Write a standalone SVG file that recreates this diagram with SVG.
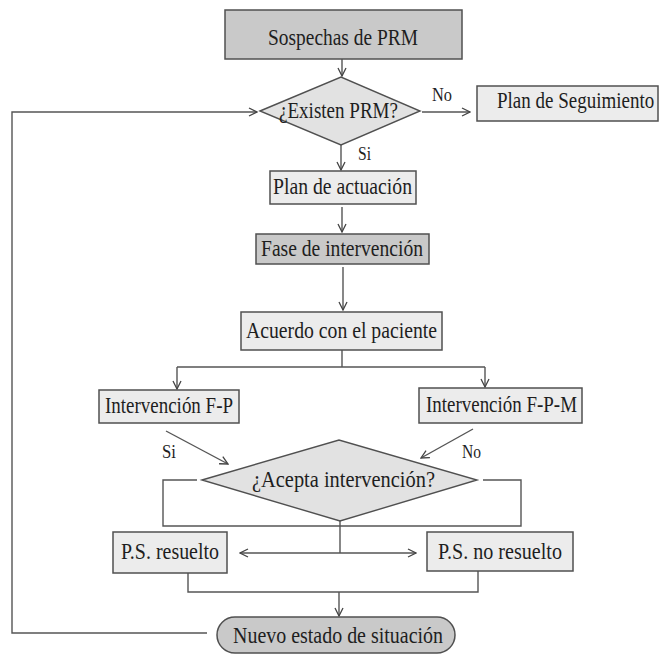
<svg xmlns="http://www.w3.org/2000/svg" width="662" height="654" viewBox="0 0 662 654">
  <style>
    .box { stroke: #505050; stroke-width: 1.5; }
    .dark { fill: #c9c9c9; }
    .light { fill: #ececec; }
    .dia { fill: #e2e2e2; stroke: #505050; stroke-width: 1.4; }
    .lbl { font-family: "Liberation Serif", "Times New Roman", serif; font-size: 23.5px; fill: #1e1e1e; }
    .sm { font-family: "Liberation Serif", "Times New Roman", serif; font-size: 18px; fill: #1e1e1e; }
    .wire { fill: none; stroke: #555555; stroke-width: 1.4; }
  </style>
  <defs>
    <marker id="arr" viewBox="0 0 10 10" refX="9" refY="5" markerWidth="10" markerHeight="10" markerUnits="userSpaceOnUse" orient="auto-start-reverse">
      <path d="M1,1 L9,5 L1,9" fill="none" stroke="#444444" stroke-width="1.3"/>
    </marker>
  </defs>

  <rect width="662" height="654" fill="#ffffff"/>

  <!-- connectors -->
  <g id="connectors">
    <line class="wire" x1="342" y1="59" x2="342" y2="76" marker-end="url(#arr)"/>
    <polyline class="wire" points="207,633 12,633 12,112 257,112" marker-end="url(#arr)"/>
    <line class="wire" x1="422" y1="112" x2="470" y2="112" marker-end="url(#arr)"/>
    <line class="wire" x1="341" y1="145" x2="341" y2="170" marker-end="url(#arr)"/>
    <line class="wire" x1="342" y1="207" x2="342" y2="232" marker-end="url(#arr)"/>
    <line class="wire" x1="343" y1="267" x2="343" y2="310" marker-end="url(#arr)"/>
    <polyline class="wire" points="342,350 342,367"/>
    <line class="wire" x1="177" y1="367" x2="485" y2="367"/>
    <line class="wire" x1="177" y1="367" x2="177" y2="389" marker-end="url(#arr)"/>
    <line class="wire" x1="485" y1="367" x2="485" y2="387" marker-end="url(#arr)"/>
    <line class="wire" x1="166" y1="431" x2="228" y2="464" marker-end="url(#arr)"/>
    <line class="wire" x1="473" y1="429" x2="421" y2="458" marker-end="url(#arr)"/>
    <polyline class="wire" points="197,480 163,480 163,526 521,526 521,480 483,480"/>
    <line class="wire" x1="340" y1="521" x2="340" y2="553"/>
    <line class="wire" x1="240" y1="553" x2="416" y2="553" marker-start="url(#arr)" marker-end="url(#arr)"/>
    <polyline class="wire" points="188,573 188,592 478,592 478,571"/>
    <line class="wire" x1="339" y1="592" x2="339" y2="616" marker-end="url(#arr)"/>
  </g>

  <!-- nodes -->
  <g id="sospechas">
    <rect class="box dark" x="225" y="10" width="237" height="49"/>
    <text class="lbl" x="268" y="45" textLength="150" lengthAdjust="spacingAndGlyphs">Sospechas de PRM</text>
  </g>
  <g id="existen">
    <polygon class="dia" points="260,111 341,77 420,111 341,145"/>
    <text class="lbl" x="279" y="118" textLength="119" lengthAdjust="spacingAndGlyphs">¿Existen PRM?</text>
  </g>
  <g id="seguimiento">
    <rect class="box light" x="477" y="86" width="181" height="35"/>
    <!-- narrower face, stretched vertically to match the other labels -->
    <text class="lbl" transform="translate(497,108) scale(1,1.22)" x="0" y="0" style="font-size:19px">Plan de Seguimiento</text>
  </g>
  <g id="actuacion">
    <rect class="box light" x="270" y="171" width="146" height="33"/>
    <text class="lbl" x="273" y="194" textLength="139" lengthAdjust="spacingAndGlyphs">Plan de actuación</text>
  </g>
  <g id="fase">
    <rect class="box dark" x="256" y="234" width="173" height="30"/>
    <text class="lbl" x="261" y="256" textLength="162" lengthAdjust="spacingAndGlyphs">Fase de intervención</text>
  </g>
  <g id="acuerdo">
    <rect class="box light" x="241" y="312" width="201" height="38"/>
    <text class="lbl" x="246" y="338" textLength="191" lengthAdjust="spacingAndGlyphs">Acuerdo con el paciente</text>
  </g>
  <g id="int-fp">
    <rect class="box light" x="99" y="390" width="140" height="33"/>
    <text class="lbl" x="105" y="413" textLength="128" lengthAdjust="spacingAndGlyphs">Intervención F-P</text>
  </g>
  <g id="int-fpm">
    <rect class="box light" x="419" y="388" width="163" height="35"/>
    <text class="lbl" x="426" y="412" textLength="151" lengthAdjust="spacingAndGlyphs">Intervención F-P-M</text>
  </g>
  <g id="acepta">
    <polygon class="dia" points="202,480 339,440 477,480 340,521"/>
    <text class="lbl" x="252" y="487" textLength="183" lengthAdjust="spacingAndGlyphs">¿Acepta intervención?</text>
  </g>
  <g id="resuelto">
    <rect class="box light" x="113" y="532" width="114" height="41"/>
    <text class="lbl" x="121" y="559" textLength="98" lengthAdjust="spacingAndGlyphs">P.S. resuelto</text>
  </g>
  <g id="no-resuelto">
    <rect class="box light" x="427" y="532" width="146" height="39"/>
    <text class="lbl" x="438" y="559" textLength="124" lengthAdjust="spacingAndGlyphs">P.S. no resuelto</text>
  </g>
  <g id="nuevo-estado">
    <rect class="box dark" x="217" y="617" width="238" height="36" rx="18" ry="18"/>
    <text class="lbl" x="233" y="643" textLength="210" lengthAdjust="spacingAndGlyphs">Nuevo estado de situación</text>
  </g>

  <!-- branch labels -->
  <g id="labels">
    <text class="sm" x="432" y="101" textLength="20" lengthAdjust="spacingAndGlyphs">No</text>
    <text class="sm" x="358" y="160" textLength="13" lengthAdjust="spacingAndGlyphs">Si</text>
    <text class="sm" x="162" y="458" textLength="14" lengthAdjust="spacingAndGlyphs">Si</text>
    <text class="sm" x="462" y="458" textLength="19" lengthAdjust="spacingAndGlyphs">No</text>
  </g>
</svg>
